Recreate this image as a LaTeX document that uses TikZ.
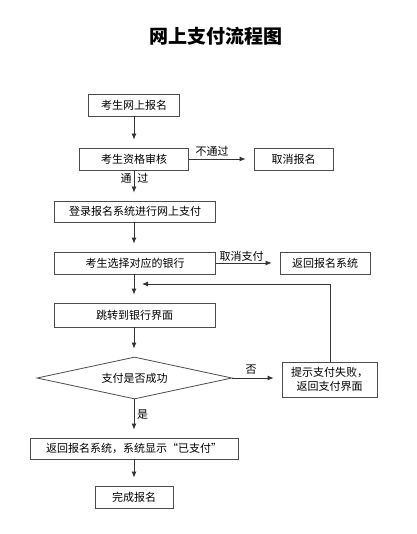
\documentclass[tikz,border=0pt]{standalone}
\usepackage{fontspec}
\setmainfont{Noto Sans CJK SC}
\usetikzlibrary{shapes.geometric,arrows.meta}
\tikzset{box/.style={draw=black!70,line width=0.8pt,rectangle,minimum height=22pt,
                     inner sep=1pt,font=\fontsize{11}{14}\selectfont},
         decision/.style={draw=black!70,line width=0.8pt,diamond,aspect=4.6,inner sep=0pt,
                     minimum width=195pt,minimum height=42pt,font=\fontsize{11}{14}\selectfont},
         flow/.style={draw=black!80,line width=0.8pt,-{Latex[length=6pt,width=5pt]},
                     shorten >=8pt},
         note/.style={inner sep=0pt,font=\fontsize{11}{14}\selectfont},
         x=1pt,y=-1pt}

\begin{document}
\begin{tikzpicture}
      \useasboundingbox (0,0) rectangle (416,534);
      \node[inner sep=0pt,font=\fontsize{19}{22}\selectfont\bfseries] (title) at (216,36) {网上支付流程图};
      % main column
      \node[box,minimum width=91pt]  (signup)  at (134,105)   {考生网上报名};
      \node[box,minimum width=109pt] (check)   at (134,159)   {考生资格审核};
      \node[box,minimum width=79pt]  (cancel)  at (293.5,159) {取消报名};
      \node[box,minimum width=161pt,minimum height=21pt] (login) at (135,211.5) {登录报名系统进行网上支付};
      \node[box,minimum width=161pt] (bank)    at (135,263)   {考生选择对应的银行};
      \node[box,minimum width=90pt]  (goback)  at (325,263)   {返回报名系统};
      \node[box,minimum width=161pt,minimum height=24pt] (jump) at (134.5,315) {跳转到银行界面};
      \node[decision]                (ok)      at (134.5,378) {支付是否成功};
      \node[box,minimum width=95pt,minimum height=35pt,align=center] (fail) at (329.5,379.5)
            {提示支付失败，\\返回支付界面};
      \node[box,minimum width=208pt,minimum height=21pt] (paid) at (134,448.5) {返回报名系统，系统显示“已支付”};
      \node[box,minimum width=78pt]  (done)    at (134,497)   {完成报名};
      \coordinate (back) at (134,284);

      \draw[flow] (signup) -- (check);
      \draw[flow] (check) -- (cancel);
      \draw[flow] (check.south -| 134,0) -- (login.north -| 134,0);
      \draw[flow] (login.south -| 134,0) -- (bank.north -| 134,0);
      \draw[flow] (bank) -- (goback);
      \draw[flow] (bank.south -| 134,0) -- (jump.north -| 134,0);
      \draw[flow] (jump.south -| 134,0) -- (ok.north -| 134,0);
      \draw[flow] (ok) -- (fail.west |- ok);
      \draw[flow] (fail.north -| 330,0) |- (back);
      \draw[flow] (ok.south -| 134,0) -- (paid.north -| 134,0);
      \draw[flow] (paid) -- (done);

      \node[note] (nopass) at (212,151)   {不通过};
      \node[note] (pass)   at (134.5,178) {通\hspace{6pt}过};
      \node[note] (nopay)  at (241.5,256) {取消支付};
      \node[note] (no)     at (251,370)   {否};
      \node[note] (yes)    at (142.5,415) {是};
    \end{tikzpicture}
\end{document}
